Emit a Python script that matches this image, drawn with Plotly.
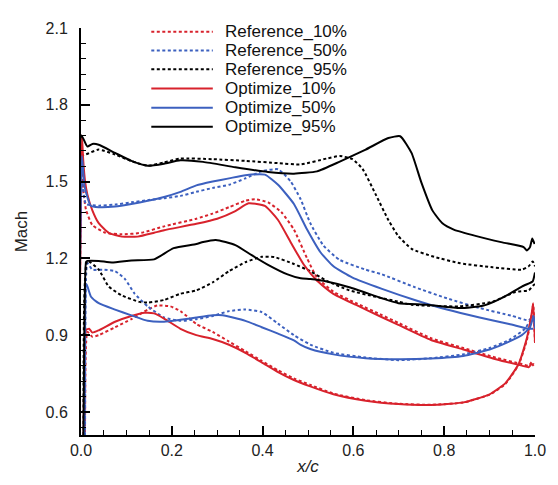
import plotly.graph_objects as go

# ---------------- data (x/c, Mach) : lower surface TE->LE, then upper LE->TE -------------
opt95_x = [1.0, 0.995, 0.989, 0.971, 0.943, 0.915, 0.885, 0.835, 0.763, 0.699, 0.663, 0.591, 0.541,
           0.505, 0.484, 0.455, 0.412, 0.376, 0.34, 0.297, 0.269, 0.254, 0.204, 0.161, 0.111, 0.068,
           0.039, 0.014, 0.011, 0.002,
           0.0, 0.001, 0.014, 0.025, 0.039, 0.075, 0.111, 0.147, 0.183, 0.219, 0.269, 0.34, 0.412,
           0.469, 0.52, 0.57, 0.627, 0.677, 0.703, 0.728, 0.749, 0.774, 0.796, 0.821, 0.871, 0.928,
           0.975, 0.982, 0.989, 0.994, 0.999]
opt95_m = [1.145, 1.11, 1.104, 1.09, 1.06, 1.035, 1.015, 1.006, 1.019, 1.025, 1.044, 1.0875, 1.11,
           1.119, 1.122, 1.1375, 1.175, 1.2125, 1.252, 1.272, 1.264, 1.256, 1.24, 1.196, 1.192, 1.184,
           1.19, 1.19, 1.185, 0.3,
           0.3, 1.68, 1.637, 1.647, 1.644, 1.612, 1.581, 1.562, 1.57, 1.583, 1.577, 1.556, 1.5375,
           1.531, 1.54, 1.578, 1.625, 1.67, 1.677, 1.612, 1.5, 1.3875, 1.337, 1.3125, 1.287, 1.2625,
           1.244, 1.231, 1.244, 1.278, 1.256]

ref95_x = [1.0, 0.996, 0.986, 0.957, 0.907, 0.835, 0.728, 0.699, 0.649, 0.591, 0.541, 0.505, 0.469,
           0.426, 0.398, 0.362, 0.326, 0.29, 0.254, 0.219, 0.183, 0.147, 0.129, 0.09, 0.061, 0.039,
           0.014, 0.003,
           0.0, 0.002, 0.011, 0.039, 0.075, 0.111, 0.147, 0.183, 0.219, 0.29, 0.362, 0.434, 0.484,
           0.541, 0.57, 0.598, 0.62, 0.649, 0.677, 0.699, 0.728, 0.778, 0.835, 0.907, 0.971, 0.986,
           0.995, 1.0]
ref95_m = [1.1, 1.094, 1.075, 1.069, 1.031, 1.0125, 1.019, 1.031, 1.05, 1.075, 1.1125, 1.15, 1.178,
           1.205, 1.206, 1.185, 1.15, 1.106, 1.075, 1.062, 1.0375, 1.0275, 1.03, 1.055, 1.09, 1.156,
           1.19, 0.3,
           0.3, 1.6, 1.606, 1.625, 1.606, 1.58, 1.562, 1.575, 1.59, 1.5875, 1.581, 1.572, 1.567,
           1.59, 1.6, 1.5875, 1.55, 1.45, 1.35, 1.287, 1.2375, 1.206, 1.181, 1.165, 1.156, 1.169,
           1.1875, 1.169]

opt50_x = [1.0, 0.997, 0.989, 0.971, 0.943, 0.9, 0.842, 0.771, 0.699, 0.627, 0.556, 0.505, 0.484,
           0.469, 0.434, 0.398, 0.362, 0.312, 0.29, 0.254, 0.219, 0.183, 0.147, 0.111, 0.075, 0.039,
           0.022, 0.012, 0.004,
           0.0, 0.002, 0.008, 0.0215, 0.039, 0.075, 0.111, 0.147, 0.183, 0.219, 0.254, 0.29, 0.326,
           0.362, 0.405, 0.434, 0.469, 0.498, 0.527, 0.556, 0.598, 0.663, 0.735, 0.806, 0.878, 0.943,
           0.986, 0.996]
opt50_m = [0.925, 0.975, 0.931, 0.9, 0.875, 0.844, 0.819, 0.809, 0.806, 0.81, 0.825, 0.846, 0.862,
           0.88, 0.906, 0.931, 0.956, 0.9775, 0.9775, 0.969, 0.96, 0.9525, 0.956, 0.9775, 1.0, 1.025,
           1.05, 1.1, 0.3,
           0.3, 1.6, 1.48, 1.406, 1.4, 1.4025, 1.4125, 1.425, 1.44, 1.46, 1.485, 1.5, 1.5125,
           1.525, 1.527, 1.4875, 1.4125, 1.3125, 1.225, 1.169, 1.125, 1.081, 1.0375, 1.0, 0.969, 0.944,
           0.925, 0.925]

ref50_x = [1.0, 0.996, 0.993, 0.978, 0.943, 0.9, 0.842, 0.771, 0.699, 0.627, 0.556, 0.505, 0.469,
           0.434, 0.398, 0.362, 0.326, 0.29, 0.254, 0.219, 0.183, 0.147, 0.118, 0.097, 0.075, 0.047,
           0.025, 0.014, 0.005,
           0.0, 0.002, 0.011, 0.039, 0.075, 0.111, 0.147, 0.183, 0.219, 0.254, 0.29, 0.326, 0.362,
           0.398, 0.434, 0.462, 0.484, 0.505, 0.534, 0.57, 0.627, 0.663, 0.735, 0.806, 0.878, 0.95,
           0.986, 0.996]
ref50_m = [0.95, 0.975, 0.969, 0.925, 0.881, 0.85, 0.825, 0.81, 0.8025, 0.8125, 0.831, 0.863, 0.9,
           0.945, 0.99, 1.0, 0.994, 0.975, 0.9625, 0.956, 0.969, 1.0125, 1.0625, 1.119, 1.15, 1.156,
           1.156, 1.181, 0.3,
           0.3, 1.5, 1.4125, 1.406, 1.41, 1.419, 1.4275, 1.435, 1.444, 1.46, 1.475, 1.4875, 1.5125,
           1.54, 1.548, 1.5, 1.43, 1.3375, 1.25, 1.194, 1.156, 1.1375, 1.0875, 1.044, 1.006, 0.975,
           0.958, 0.975]

opt10_x = [1.0, 0.996, 0.993, 0.982, 0.964, 0.935, 0.9, 0.842, 0.771, 0.699, 0.627, 0.556, 0.505,
           0.469, 0.434, 0.398, 0.362, 0.326, 0.29, 0.254, 0.219, 0.183, 0.161, 0.14, 0.111, 0.075,
           0.039, 0.025, 0.018, 0.011, 0.003,
           0.0, 0.002, 0.005, 0.009, 0.014, 0.025, 0.039, 0.061, 0.09, 0.125, 0.161, 0.183, 0.254,
           0.3, 0.34, 0.369, 0.405, 0.434, 0.462, 0.491, 0.52, 0.555, 0.606, 0.663, 0.699, 0.771,
           0.842, 0.914, 0.971, 0.986, 0.993, 0.997]
opt10_m = [0.87, 1.025, 0.9875, 0.8875, 0.7875, 0.7125, 0.669, 0.6375, 0.6275, 0.631, 0.644, 0.669, 0.7,
           0.725, 0.756, 0.794, 0.831, 0.8625, 0.885, 0.9, 0.925, 0.965, 0.985, 0.9875, 0.975, 0.9525,
           0.919, 0.91, 0.925, 0.92, 0.3,
           0.3, 1.68, 1.58, 1.5, 1.45, 1.3875, 1.3375, 1.3, 1.285, 1.285, 1.3, 1.31, 1.335,
           1.355, 1.385, 1.415, 1.405, 1.35, 1.2625, 1.175, 1.1125, 1.0625, 1.018, 0.97, 0.94, 0.881,
           0.844, 0.806, 0.781, 0.775, 0.7875, 0.78]

ref10_x = [1.0, 0.996, 0.993, 0.982, 0.964, 0.935, 0.9, 0.842, 0.771, 0.699, 0.627, 0.556, 0.505,
           0.469, 0.434, 0.398, 0.362, 0.326, 0.29, 0.254, 0.219, 0.197, 0.168, 0.147, 0.111, 0.075,
           0.039, 0.025, 0.014, 0.005,
           0.0, 0.002, 0.006, 0.011, 0.025, 0.054, 0.09, 0.133, 0.183, 0.254, 0.29, 0.326, 0.362,
           0.383, 0.412, 0.441, 0.469, 0.498, 0.52, 0.556, 0.606, 0.663, 0.699, 0.771, 0.842, 0.914,
           0.971, 0.986, 0.993, 0.997]
ref10_m = [0.87, 1.02, 0.98, 0.88, 0.785, 0.71, 0.668, 0.637, 0.628, 0.632, 0.646, 0.672, 0.706,
           0.731, 0.7625, 0.8, 0.8375, 0.875, 0.9125, 0.944, 0.994, 1.0125, 1.016, 1.0, 0.9625, 0.931,
           0.9, 0.894, 0.9125, 0.3,
           0.3, 1.6, 1.45, 1.39, 1.33, 1.3, 1.294, 1.3, 1.325, 1.355, 1.375, 1.4, 1.425,
           1.431, 1.419, 1.381, 1.3125, 1.2, 1.125, 1.07, 1.025, 0.978, 0.948, 0.888, 0.85, 0.812,
           0.787, 0.78, 0.795, 0.785]

names = ["Reference_10%", "Reference_50%", "Reference_95%",
         "Optimize_10%", "Optimize_50%", "Optimize_95%"]
x_ticks = [0.0, 0.2, 0.4, 0.6, 0.8, 1.0]
y_ticks = [0.6, 0.9, 1.2, 1.5, 1.8, 2.1]

# ---------------- styles -------------
RED = "#d8222c"
BLUE = "#3c60bf"
BLACK = "#000000"
series = [
    (ref10_x, ref10_m, RED, "3px,2.5px"),
    (ref50_x, ref50_m, BLUE, "3px,2.5px"),
    (ref95_x, ref95_m, BLACK, "3px,2.5px"),
    (opt10_x, opt10_m, RED, "solid"),
    (opt50_x, opt50_m, BLUE, "solid"),
    (opt95_x, opt95_m, BLACK, "solid"),
]

fig = go.Figure()
for (xs, ms, col, dash), nm in zip(series, names):
    fig.add_trace(go.Scatter(x=xs, y=ms, mode="lines", name=nm, showlegend=False,
                             line=dict(color=col, width=2, dash=dash,
                                       shape="spline", smoothing=0.5)))

# page body adds an 8px offset; plot area target in window px: x 75..540, y 20..444
OFF = 8
W, H = 550, 477
ML, MT = 75 - OFF, 20 - OFF
PW, PH = 465, 424
MR = W - ML - PW
MB = H - MT - PH

def px2paper_x(px):   # window px -> paper
    return (px - OFF - ML) / PW
def px2paper_y(py):
    return (MT + PH - (py - OFF)) / PH

rows_y = [24, 43.5, 63, 83, 103, 123]
shapes = []
annotations = []
for (xs, ms, col, dash), nm, ry in zip(series, names, rows_y):
    yy = px2paper_y(ry)
    shapes.append(dict(type="line", xref="paper", yref="paper",
                       x0=px2paper_x(147), x1=px2paper_x(210), y0=yy, y1=yy,
                       line=dict(color=col, width=2, dash=dash)))
    annotations.append(dict(xref="paper", yref="paper", x=px2paper_x(220), y=yy,
                            text=nm, showarrow=False, xanchor="left", yanchor="middle",
                            font=dict(family="Liberation Sans, Arial, sans-serif", size=17,
                                      color="#111")))

fig.update_layout(
    width=W, height=H,
    margin=dict(l=ML, r=MR, t=MT, b=MB, pad=0),
    paper_bgcolor="white", plot_bgcolor="white",
    shapes=shapes, annotations=annotations,
    font=dict(family="Liberation Sans, Arial, sans-serif", size=16, color="#222"),
    xaxis=dict(range=[0, 1], tickvals=x_ticks, ticktext=[f"{v:.1f}" for v in x_ticks],
               showgrid=False, zeroline=False, showline=True, linecolor="black", linewidth=2,
               ticks="inside", ticklen=9, tickwidth=1.5, tickcolor="black",
               minor=dict(dtick=0.05, tick0=0, ticks="inside", ticklen=5, tickwidth=1,
                          tickcolor="black", showgrid=False),
               tickfont=dict(size=16, color="#222"),
               title=dict(text="<i>x/c</i>", font=dict(size=17, color="#222"), standoff=2)),
    yaxis=dict(range=[0.51, 2.1], tickvals=y_ticks, ticktext=[f"{v:.1f}" for v in y_ticks],
               showgrid=False, zeroline=False, showline=True, linecolor="black", linewidth=2,
               ticks="inside", ticklen=9, tickwidth=1.5, tickcolor="black",
               minor=dict(dtick=0.06, tick0=0.6, ticks="inside", ticklen=5, tickwidth=1,
                          tickcolor="black", showgrid=False),
               ticklabelstandoff=8,
               tickfont=dict(size=16, color="#222"),
               title=dict(text="Mach", font=dict(size=17, color="#222"), standoff=14)),
)

fig.write_html("out.html")
